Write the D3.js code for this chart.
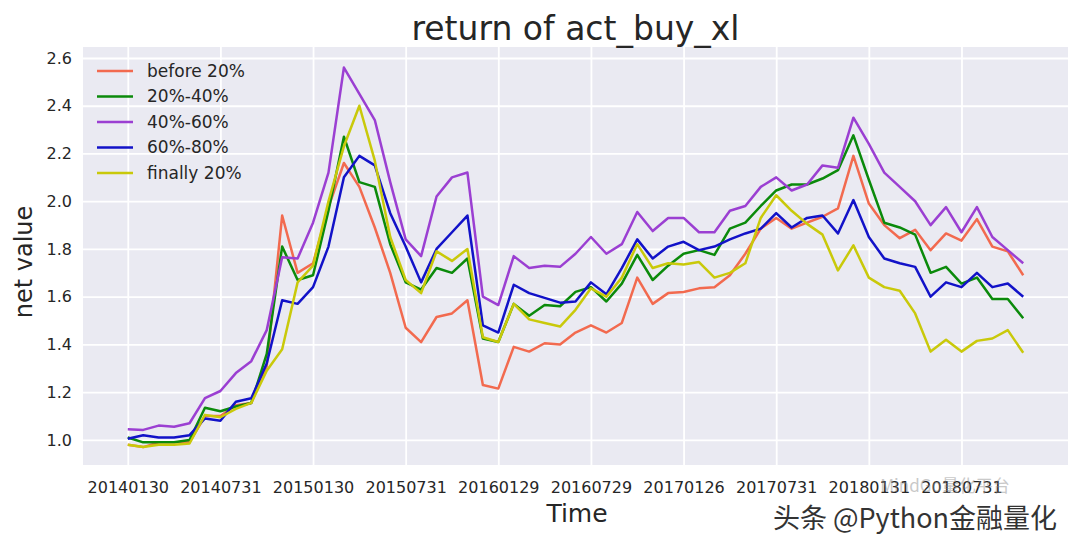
<!DOCTYPE html>
<html><head><meta charset="utf-8">
<script src="https://cdn.jsdelivr.net/npm/d3@7"></script>
<style>body{margin:0;background:#fff;} svg{display:block;}</style>
</head><body>
<svg id="c" width="1080" height="540"></svg>
<script>
const tickLabels = ["20140130","20140731","20150130","20150731","20160129","20160729","20170126","20170731","20180131","20180731"];
const yTicks = [1.0,1.2,1.4,1.6,1.8,2.0,2.2,2.4,2.6];
const seriesNames = ["before 20%","20%-40%","40%-60%","60%-80%","finally 20%"];
const before20 = [0.98,0.97,0.99,0.99,0.99,1.10,1.10,1.145,1.155,1.31,1.94,1.70,1.74,1.975,2.16,2.06,1.89,1.70,1.47,1.41,1.515,1.53,1.585,1.23,1.215,1.39,1.37,1.405,1.40,1.45,1.48,1.45,1.49,1.68,1.57,1.615,1.62,1.635,1.64,1.69,1.78,1.885,1.93,1.885,1.91,1.935,1.97,2.19,1.99,1.90,1.845,1.88,1.795,1.865,1.835,1.925,1.81,1.79,1.69];
const p20_40 = [1.01,0.99,0.99,0.99,1.0,1.135,1.12,1.14,1.155,1.36,1.81,1.67,1.69,1.96,2.27,2.08,2.06,1.82,1.66,1.63,1.72,1.70,1.76,1.425,1.41,1.57,1.52,1.565,1.56,1.62,1.64,1.58,1.655,1.775,1.67,1.73,1.78,1.795,1.775,1.885,1.91,1.98,2.045,2.07,2.07,2.095,2.13,2.276,2.09,1.91,1.89,1.86,1.70,1.725,1.655,1.68,1.59,1.59,1.51];
const p40_60 = [1.045,1.042,1.06,1.055,1.07,1.175,1.205,1.28,1.33,1.46,1.765,1.76,1.91,2.12,2.56,2.45,2.34,2.08,1.84,1.77,2.02,2.10,2.12,1.60,1.565,1.77,1.72,1.73,1.725,1.78,1.85,1.78,1.82,1.955,1.875,1.93,1.93,1.87,1.87,1.96,1.98,2.06,2.10,2.045,2.07,2.15,2.14,2.35,2.24,2.12,2.06,2.00,1.90,1.975,1.87,1.975,1.85,1.795,1.74];
const p60_80 = [1.005,1.02,1.01,1.01,1.02,1.09,1.08,1.16,1.175,1.32,1.585,1.57,1.64,1.81,2.10,2.19,2.15,1.95,1.81,1.66,1.80,1.87,1.94,1.48,1.45,1.65,1.615,1.595,1.575,1.58,1.66,1.61,1.72,1.84,1.76,1.81,1.83,1.795,1.81,1.84,1.865,1.885,1.95,1.89,1.93,1.94,1.865,2.005,1.85,1.76,1.74,1.725,1.60,1.66,1.64,1.70,1.64,1.655,1.60];
const finally20 = [0.98,0.97,0.98,0.98,0.985,1.105,1.095,1.13,1.155,1.29,1.38,1.66,1.73,2.00,2.23,2.40,2.17,1.85,1.67,1.615,1.79,1.75,1.80,1.43,1.41,1.57,1.505,1.49,1.475,1.545,1.635,1.60,1.68,1.82,1.72,1.74,1.735,1.745,1.68,1.70,1.74,1.93,2.025,1.96,1.905,1.86,1.71,1.815,1.68,1.64,1.625,1.53,1.37,1.42,1.37,1.415,1.425,1.46,1.365];
const colors = ["#f26a4f","#0b8a0b","#9b3fd2","#1212c8","#c9c90a"];
const allSeries = [before20,p20_40,p40_60,p60_80,finally20];

const svg = d3.select("#c");
const L=83,R=1068,T=47,B=465;
const n = before20.length;
const x = d3.scaleLinear().domain([-(n-1)*0.05,(n-1)*1.05]).range([L,R]);
const y = d3.scaleLinear().domain([0.895,2.646]).range([B,T]);
const tickIdx = tickLabels.map((d,i)=>i*6);

svg.append("rect").attr("x",L).attr("y",T).attr("width",R-L).attr("height",B-T).attr("fill","#eaeaf2");

const xAxis = d3.axisBottom(x).tickValues(tickIdx).tickFormat((d,i)=>tickLabels[i]).tickSize(-(B-T)).tickPadding(14);
const gx = svg.append("g").attr("transform",`translate(0,${B})`).call(xAxis);
const yAxis = d3.axisLeft(y).tickValues(yTicks).tickFormat(d3.format(".1f")).tickSize(-(R-L)).tickPadding(11);
const gy = svg.append("g").attr("transform",`translate(${L},0)`).call(yAxis);
[gx,gy].forEach(g=>{
  g.select(".domain").remove();
  g.selectAll(".tick line").attr("stroke","#fff").attr("stroke-width",1.8);
  g.selectAll(".tick text").attr("fill","#262626").attr("font-family","DejaVu Sans").attr("font-size",16);
});
gx.selectAll(".tick text").attr("dy","0.9em");

const line = d3.line().x((d,i)=>x(i)).y(d=>y(d));
allSeries.forEach((s,k)=>{
  svg.append("path").datum(s).attr("d",line).attr("fill","none")
    .attr("stroke",colors[k]).attr("stroke-width",2.5).attr("stroke-linejoin","round");
});

// legend
const lg = svg.append("g");
seriesNames.forEach((nm,k)=>{
  const yy = 71 + k*25.5;
  lg.append("line").attr("x1",97).attr("x2",133).attr("y1",yy).attr("y2",yy).attr("stroke",colors[k]).attr("stroke-width",2.5);
  lg.append("text").attr("x",147).attr("y",yy).attr("dy","0.35em").attr("font-family","DejaVu Sans").attr("font-size",17).attr("fill","#262626").text(nm);
});

svg.append("text").attr("x",(L+R)/2).attr("y",40).attr("text-anchor","middle").attr("font-family","DejaVu Sans").attr("font-size",33).attr("fill","#262626").text("return of act_buy_xl");
svg.append("text").attr("x",577).attr("y",522).attr("text-anchor","middle").attr("font-family","DejaVu Sans").attr("font-size",25).attr("fill","#262626").text("Time");
svg.append("text").attr("transform",`translate(32,${262}) rotate(-90)`).attr("text-anchor","middle").attr("font-family","DejaVu Sans").attr("font-size",24).attr("fill","#262626").text("net value");

// watermark
svg.append("text").attr("x",945).attr("y",492).attr("text-anchor","middle").attr("font-family","Noto Sans CJK SC").attr("font-size",17).attr("fill","#888").attr("opacity",0.45).text("MindGo量化平台");
svg.append("text").attr("x",915).attr("y",528).attr("text-anchor","middle").attr("font-family","Noto Sans CJK SC").attr("font-size",27).attr("fill","#333").attr("stroke","#fff").attr("stroke-width",2).attr("paint-order","stroke").text("头条 @Python金融量化");
</script>
</body></html>
